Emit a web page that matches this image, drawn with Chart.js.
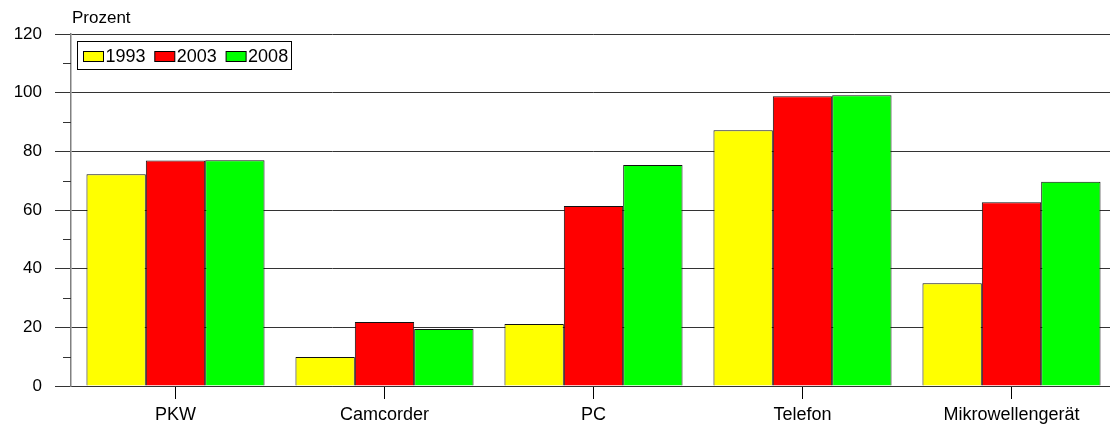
<!DOCTYPE html>
<html>
<head>
<meta charset="utf-8">
<script src="https://cdn.jsdelivr.net/npm/chart.js@4"></script>
<style>
  html, body { margin: 0; padding: 0; background: #fff; overflow: hidden; }
  #clip { width: 1110px; height: 435px; overflow: hidden; }
  #wrap { width: 1116px; height: 435px; }
</style>
</head>
<body>
<div id="clip"><div id="wrap"><canvas id="chart"></canvas></div></div>
<script>
// Daten
const categories = ['PKW', 'Camcorder', 'PC', 'Telefon', 'Mikrowellengerät'];
const years = ['1993', '2003', '2008'];
const values1993 = [72.2, 9.9, 21.1, 87.2, 35.0];
const values2003 = [76.9, 21.8, 61.4, 98.8, 62.6];
const values2008 = [77.0, 19.4, 75.3, 99.1, 69.6];
const yTicks = [0, 20, 40, 60, 80, 100, 120];
const yUnit = 'Prozent';

const colors = ['#ffff00', '#ff0000', '#00ff00'];
const FONT = '"Liberation Sans", Arial, sans-serif';

// Legende, Achsentitel und kleine Ticks selbst zeichnen
const extras = {
    id: 'extras',
    afterDraw(chart) {
        const ctx = chart.ctx;
        const area = chart.chartArea;
        const y = chart.scales.y;
        ctx.save();

        // kleine Ticks (10, 30, ...)
        ctx.strokeStyle = '#333';
        ctx.lineWidth = 1;
        for (let v = 10; v < 120; v += 20) {
            const py = Math.round(y.getPixelForValue(v)) + 0.5;
            ctx.beginPath();
            ctx.moveTo(area.left - 8, py);
            ctx.lineTo(area.left, py);
            ctx.stroke();
        }

        // Einheit
        ctx.fillStyle = '#000';
        ctx.font = '17px ' + FONT;
        ctx.textAlign = 'left';
        ctx.textBaseline = 'alphabetic';
        ctx.fillText(yUnit, 72, 23);

        // Legende
        ctx.fillStyle = '#fff';
        ctx.fillRect(77.5, 41.5, 214, 28);
        ctx.strokeStyle = '#000';
        ctx.strokeRect(77.5, 41.5, 214, 28);
        ctx.font = '18px ' + FONT;
        ctx.textBaseline = 'middle';
        years.forEach((yr, i) => {
            const x = 83.5 + i * 71.3;
            ctx.fillStyle = colors[i];
            ctx.fillRect(x, 51.5, 20, 10);
            ctx.strokeStyle = '#000';
            ctx.strokeRect(x, 51.5, 20, 10);
            ctx.fillStyle = '#000';
            ctx.fillText(yr, x + 22, 57);
        });
        ctx.restore();
    }
};

const ds = [values1993, values2003, values2008].map((vals, i) => ({
    label: years[i],
    data: vals,
    backgroundColor: colors[i],
    borderColor: '#111',
    borderWidth: 1,
    categoryPercentage: 0.852,
    barPercentage: 1.0
}));

new Chart(document.getElementById('chart'), {
    type: 'bar',
    data: { labels: categories, datasets: ds },
    options: {
        responsive: true,
        maintainAspectRatio: false,
        animation: false,
        layout: { padding: { top: 34, right: 0, left: 0, bottom: 0 } },
        plugins: { legend: { display: false }, tooltip: { enabled: false } },
        scales: {
            x: {
                grid: { offset: false, drawOnChartArea: false, color: '#000', tickLength: 13 },
                border: { color: '#333', width: 1 },
                ticks: { color: '#000', font: { family: FONT, size: 18 }, padding: 5 },
                afterFit(scale) { scale.height = 49; }
            },
            y: {
                min: 0,
                max: 120,
                afterBuildTicks(scale) { scale.ticks = yTicks.map(v => ({ value: v })); },
                grid: { color: '#333', lineWidth: 1, tickLength: 16 },
                border: { color: '#808080', width: 1.5 },
                ticks: { color: '#000', font: { family: FONT, size: 17 }, padding: 13 },
                afterFit(scale) { scale.width = 71; }
            }
        }
    },
    plugins: [extras]
});
</script>
</body>
</html>
